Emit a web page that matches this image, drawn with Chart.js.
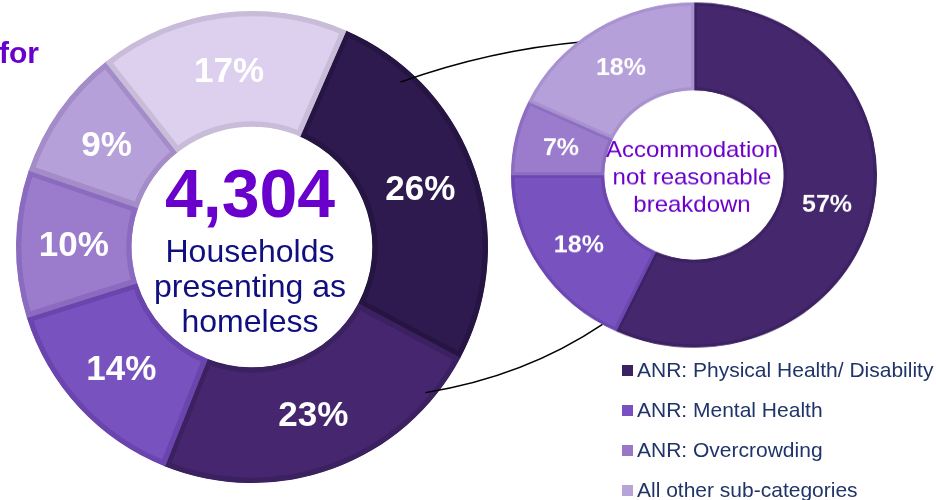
<!DOCTYPE html>
<html>
<head>
<meta charset="utf-8">
<script src="https://cdn.jsdelivr.net/npm/chart.js@4"></script>
<style>
  body { margin: 0; background: #fff; }
  #wrap { position: relative; width: 936px; height: 500px; overflow: hidden; font-family: "Liberation Sans", Arial, sans-serif; }
  #wrap canvas { position: absolute; left: 0; top: 0; }
  /* the breakdown ring is a little squashed in the original slide */
  #wrap #anrChart { top: -10px; transform: scaleY(0.943); transform-origin: 0 185px; }
  #legend { position: absolute; left: 622px; top: 350px; }
  .row { height: 40px; display: flex; align-items: center; font-size: 21px; color: #1f3468; white-space: nowrap; }
  .box { width: 11px; height: 11px; margin-right: 4px; flex: none; }
</style>
</head>
<body>
<div id="wrap">
  <canvas id="mainChart" width="936" height="500"></canvas>
  <canvas id="anrChart" width="936" height="500"></canvas>
  <div id="legend"></div>
</div>
<script>
// left ring: reasons for presenting as homeless (share of 4,304 households)
const reasonLabels = ['Accommodation not reasonable', 'Reason B', 'Reason C', 'Reason D', 'Reason E', 'Reason F'];
const reasonValues = [26, 23, 14, 10, 9, 17];
const reasonColors = ['#2e1a4e', '#46276f', '#7852be', '#9a7bcc', '#b5a0da', '#dcd0ee'];
const reasonBorders = ['#261442', '#3b2160', '#6a45ae', '#8b6bbf', '#a48cc9', '#c8bcd8'];

// right ring: accommodation not reasonable breakdown
const anrLabels = ['ANR: Physical Health/ Disability', 'ANR: Mental Health', 'ANR: Overcrowding', 'All other sub-categories'];
const anrValues = [57, 18, 7, 18];
const anrColors = ['#45276e', '#7852be', '#9a7bcc', '#b5a0da'];
const anrBorders = ['#3d2263', '#6c47b2', '#8c6dc0', '#a791cf'];
const anrMarkers = ['#3b2363', '#7a4fc0', '#9a76c8', '#b8a3d8'];

const FONT = '"Liberation Sans", Arial, sans-serif';
// must agree with the css of #anrChart
const ANR_SY = 0.943, ANR_Y0 = 185, ANR_TOP = -10;

const pctLabels = {
  id: 'pctLabels',
  afterDatasetsDraw(chart, args, opts) {
    const ctx = chart.ctx;
    const meta = chart.getDatasetMeta(0);
    ctx.save();
    ctx.font = 'bold ' + opts.size + 'px ' + FONT;
    ctx.fillStyle = '#ffffff';
    ctx.textAlign = 'center';
    ctx.textBaseline = 'middle';
    meta.data.forEach((arc, i) => {
      const p = arc.tooltipPosition();
      ctx.fillText(chart.data.datasets[0].data[i] + '%', p.x, p.y + 2);
    });
    ctx.restore();
  }
};

const centerText = {
  id: 'centerText',
  afterDraw(chart, args, opts) {
    const ctx = chart.ctx;
    const arc = chart.getDatasetMeta(0).data[0];
    ctx.save();
    ctx.textAlign = 'center';
    ctx.textBaseline = 'alphabetic';
    opts.lines.forEach(l => {
      ctx.font = l.font;
      ctx.fillStyle = l.color;
      ctx.fillText(l.text, arc.x - 2, arc.y + l.dy);
    });
    if (opts.corner) {
      ctx.textAlign = 'left';
      ctx.font = opts.corner.font;
      ctx.fillStyle = opts.corner.color;
      ctx.fillText(opts.corner.text, opts.corner.x, opts.corner.y);
    }
    ctx.restore();
  }
};

// curved links from the 26% slice to the breakdown ring (drawn under the ring)
const connectors = {
  id: 'connectors',
  afterDatasetsDraw(chart, args, opts) {
    const left = chart.getDatasetMeta(0).data[0];
    const right = opts.target.getDatasetMeta(0).data[0];
    const pt = (a, deg, f, squashed) => {
      const t = deg * Math.PI / 180;
      const y = a.y - a.outerRadius * f * Math.cos(t);
      return {
        x: a.x + a.outerRadius * f * Math.sin(t),
        y: squashed ? ANR_TOP + ANR_Y0 + (y - ANR_Y0) * ANR_SY : y
      };
    };
    const ctx = chart.ctx;
    ctx.save();
    ctx.strokeStyle = '#000';
    ctx.lineWidth = 1.5;
    opts.links.forEach(k => {
      const a = pt(left, k.from, k.fr, false);
      const b = pt(right, k.to, k.tr, true);
      ctx.beginPath();
      ctx.moveTo(a.x, a.y);
      ctx.quadraticCurveTo((a.x + b.x) / 2 + k.cx, (a.y + b.y) / 2 + k.cy, b.x, b.y);
      ctx.stroke();
    });
    ctx.restore();
  }
};

const anrChart = new Chart(document.getElementById('anrChart'), {
  type: 'doughnut',
  data: {
    labels: anrLabels,
    datasets: [{
      data: anrValues,
      backgroundColor: anrColors,
      borderColor: anrBorders,
      borderWidth: 3,
      borderAlign: 'inner',
      hoverOffset: 0
    }]
  },
  options: {
    responsive: false,
    animation: false,
    events: [],
    radius: 183,
    cutout: '49%',
    layout: { padding: { left: 452, right: 0, top: 20, bottom: 150 } },
    plugins: {
      legend: { display: false },
      tooltip: { enabled: false },
      pctLabels: { size: 25 },
      centerText: {
        lines: [
          { text: 'Accommodation', font: '24px ' + FONT, color: '#6a00cc', dy: -19 },
          { text: 'not reasonable', font: '24px ' + FONT, color: '#6a00cc', dy: 10 },
          { text: 'breakdown', font: '24px ' + FONT, color: '#6a00cc', dy: 39 }
        ]
      }
    }
  },
  plugins: [pctLabels, centerText]
});

new Chart(document.getElementById('mainChart'), {
  type: 'doughnut',
  data: {
    labels: reasonLabels,
    datasets: [{
      data: reasonValues,
      backgroundColor: reasonColors,
      borderColor: reasonBorders,
      borderWidth: 5,
      borderAlign: 'inner',
      hoverOffset: 0
    }]
  },
  options: {
    responsive: false,
    animation: false,
    events: [],
    rotation: 23.5,
    radius: 236,
    cutout: '51%',
    layout: { padding: { left: 0, right: 432, top: 0, bottom: 6 } },
    plugins: {
      legend: { display: false },
      tooltip: { enabled: false },
      pctLabels: { size: 35 },
      centerText: {
        lines: [
          { text: '4,304', font: 'bold 68px ' + FONT, color: '#6a00cc', dy: -30 },
          { text: 'Households', font: '32px ' + FONT, color: '#0f0f80', dy: 15 },
          { text: 'presenting as', font: '32px ' + FONT, color: '#0f0f80', dy: 50 },
          { text: 'homeless', font: '32px ' + FONT, color: '#0f0f80', dy: 85 }
        ],
        corner: { text: 'for', font: 'bold 30px ' + FONT, color: '#6a00cc', x: -1, y: 63 }
      },
      connectors: {
        target: anrChart,
        links: [
          { from: 42, fr: 0.94, to: 322, tr: 0.98, cx: -2, cy: -12 },
          { from: 130, fr: 0.96, to: 210, tr: 1.0, cx: 11, cy: 18 }
        ]
      }
    }
  },
  plugins: [pctLabels, centerText, connectors]
});

const legend = document.getElementById('legend');
anrLabels.forEach((name, i) => {
  const row = document.createElement('div');
  row.className = 'row';
  const box = document.createElement('span');
  box.className = 'box';
  box.style.background = anrMarkers[i];
  const txt = document.createElement('span');
  txt.textContent = name;
  row.appendChild(box);
  row.appendChild(txt);
  legend.appendChild(row);
});
</script>
</body>
</html>
